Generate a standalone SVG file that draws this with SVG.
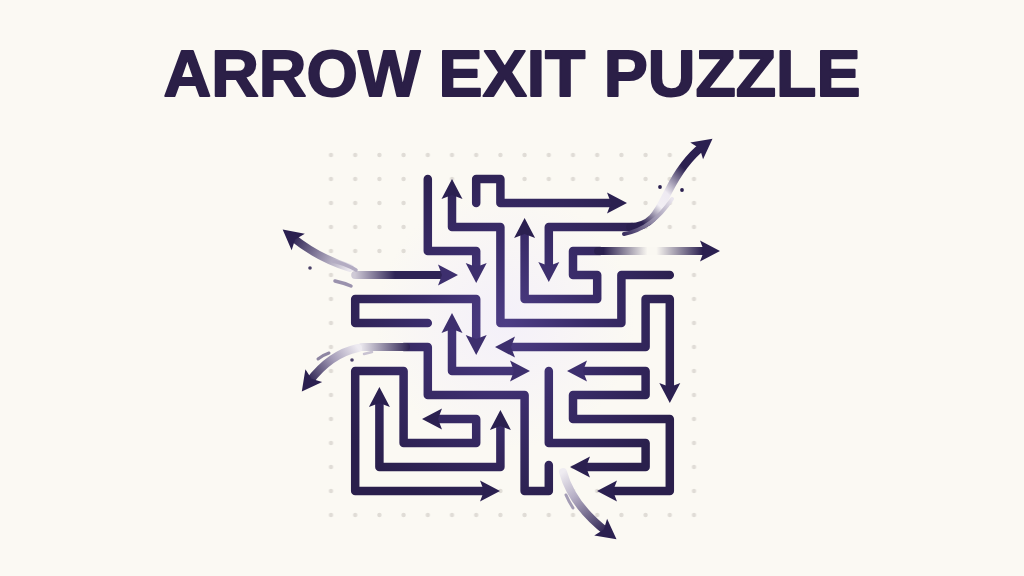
<svg xmlns="http://www.w3.org/2000/svg" width="1024" height="576" viewBox="0 0 1024 576">
<defs>
<style>
.ln{fill:none;stroke:url(#lg);stroke-width:8.5;stroke-linecap:round;stroke-linejoin:round}
.ex{fill:none;stroke-width:8;stroke-linecap:round;stroke-linejoin:round}
.st{fill:none;stroke-linecap:round}
.title{font-family:"Liberation Sans",Arial,sans-serif;font-weight:700;font-size:65px;fill:#2b1f47;stroke:#2b1f47;stroke-width:1.8;stroke-linejoin:round}
</style>
<radialGradient id="lg" gradientUnits="userSpaceOnUse" cx="505" cy="325" r="190">
<stop offset="0" stop-color="#4d3d85"/><stop offset="0.45" stop-color="#3a2c6a"/><stop offset="1" stop-color="#2a1f4c"/>
</radialGradient>
<radialGradient id="glow" gradientUnits="userSpaceOnUse" cx="505" cy="320" r="130">
<stop offset="0" stop-color="#f3effa" stop-opacity="0.9"/><stop offset="1" stop-color="#f3effa" stop-opacity="0"/>
</radialGradient>
<linearGradient id="gTLh" gradientUnits="userSpaceOnUse" x1="355" y1="275" x2="395" y2="275">
<stop offset="0" stop-color="#cfcad6"/><stop offset="1" stop-color="#2f2456"/>
</linearGradient>
<linearGradient id="gTL" gradientUnits="userSpaceOnUse" x1="350" y1="268" x2="292" y2="237">
<stop offset="0" stop-color="#ebe8ee"/><stop offset="0.5" stop-color="#8e86a4"/><stop offset="1" stop-color="#2b2050"/>
</linearGradient>
<linearGradient id="gBLh" gradientUnits="userSpaceOnUse" x1="362" y1="347" x2="410" y2="347">
<stop offset="0" stop-color="#e6e3ea"/><stop offset="1" stop-color="#2d2252"/>
</linearGradient>
<linearGradient id="gBL" gradientUnits="userSpaceOnUse" x1="358" y1="348" x2="309" y2="382">
<stop offset="0" stop-color="#eeebf1"/><stop offset="0.45" stop-color="#a59db8"/><stop offset="1" stop-color="#2b2050"/>
</linearGradient>
<linearGradient id="gTR" gradientUnits="userSpaceOnUse" x1="630" y1="227" x2="705" y2="145">
<stop offset="0" stop-color="#2b2050"/><stop offset="0.1" stop-color="#2b2050"/><stop offset="0.32" stop-color="#f2eff4"/><stop offset="0.45" stop-color="#eeeaf2"/><stop offset="0.72" stop-color="#2b2050"/><stop offset="1" stop-color="#2b2050"/>
</linearGradient>
<linearGradient id="gTRs" gradientUnits="userSpaceOnUse" x1="624" y1="233" x2="672" y2="199">
<stop offset="0" stop-color="#3a2e60"/><stop offset="1" stop-color="#eae6ee"/>
</linearGradient>
<linearGradient id="gR" gradientUnits="userSpaceOnUse" x1="598" y1="251" x2="708" y2="251">
<stop offset="0" stop-color="#2b2050"/><stop offset="0.05" stop-color="#2b2050"/><stop offset="0.45" stop-color="#faf8f2"/><stop offset="0.53" stop-color="#faf8f2"/><stop offset="0.95" stop-color="#2b2050"/>
</linearGradient>
<linearGradient id="gB" gradientUnits="userSpaceOnUse" x1="563" y1="472" x2="607" y2="532">
<stop offset="0" stop-color="#efecf1"/><stop offset="0.35" stop-color="#b7b0c6"/><stop offset="1" stop-color="#2b2050"/>
</linearGradient>
<pattern id="dots" patternUnits="userSpaceOnUse" x="318.9" y="143" width="24.2" height="24">
<circle cx="12.1" cy="12" r="2.2" fill="#e0dcd6"/>
</pattern>
<marker id="ah" viewBox="-10 -12 24 24" markerWidth="24" markerHeight="24" refX="0" refY="0" orient="auto-start-reverse" markerUnits="userSpaceOnUse" overflow="visible">
<path d="M12 0 L-8 -10.5 L-4 0 L-8 10.5 Z" fill="#2b2050"/>
</marker>
<marker id="ahc" viewBox="-10 -12 24 24" markerWidth="24" markerHeight="24" refX="0" refY="0" orient="auto-start-reverse" markerUnits="userSpaceOnUse" overflow="visible">
<path d="M12 0 L-8 -10.5 L-4 0 L-8 10.5 Z" fill="#3d2f6e"/>
</marker>
</defs>
<rect width="1024" height="576" fill="#fbf9f3"/>
<circle cx="505" cy="320" r="130" fill="url(#glow)"/>
<rect x="318.9" y="143" width="387.2" height="384" fill="url(#dots)"/>
<text class="title" x="512" y="95.5" text-anchor="middle" textLength="697" lengthAdjust="spacingAndGlyphs">ARROW EXIT PUZZLE</text>
<g id="connectors">
<g id="arrow-a"><path class="ln" d="M427.8 179 V251 H476.2 V271" marker-end="url(#ahc)"/></g>
<g id="arrow-b"><path class="ln" d="M452 191 V227 H500.4 V323 H621.4 V275 H669.8" marker-start="url(#ah)"/></g>
<g id="arrow-c"><path class="ln" d="M476.2 203 V179 H500.4 V203 H615" marker-end="url(#ah)"/></g>
<g id="arrow-d"><path class="ln" d="M524.6 230 V299 H597.2 V275 H573 V251 H600" marker-start="url(#ah)"/>
<path class="ex" d="M598 251 H708" stroke="url(#gR)" stroke-width="8.5" marker-end="url(#ah)"/></g>
<g id="arrow-e"><path class="ln" d="M548.8 270 V227 H632" marker-start="url(#ahc)"/>
<path class="ex" d="M630 227 C652 227 658 212 668 192 C677 174 690 156 703 146" stroke="url(#gTR)" marker-end="url(#ah)"/>
<path class="st" d="M624 234 Q652 229 672 199" stroke="url(#gTRs)" stroke-width="4"/>
<circle cx="660" cy="187" r="1.9" fill="#2b2050"/><circle cx="682" cy="190" r="1.9" fill="#2b2050"/></g>
<g id="arrow-exit-tl"><path class="ex" d="M355.2 275 H446" stroke="url(#gTLh)" stroke-width="8.5" marker-end="url(#ahc)"/>
<path class="ex" d="M350 268 Q318 258 292 237" stroke="url(#gTL)" marker-end="url(#ah)"/>
<path class="st" d="M333 261 Q346 264 356 270" stroke="#b3acc2" stroke-width="3.5"/>
<path class="st" d="M335 281 Q344 283 351 286" stroke="#9a92ad" stroke-width="3.5"/>
<circle cx="310" cy="268" r="1.8" fill="#4a4068"/></g>
<g id="arrow-f"><path class="ln" d="M507 347 H645.6 V299 H669.8 V391" marker-start="url(#ahc)" marker-end="url(#ah)"/></g>
<g id="arrow-g"><path class="ln" d="M427.8 323 H355.2 V299 H476.2 V343" marker-end="url(#ahc)"/></g>
<g id="arrow-h"><path class="ln" d="M452 325 V371 H518" marker-start="url(#ahc)" marker-end="url(#ahc)"/></g>
<g id="arrow-i"><path class="ln" d="M579 371 H645.6 V395 H573 V419 H669.8 V491 H609" marker-start="url(#ahc)" marker-end="url(#ah)"/></g>
<g id="arrow-j"><path class="ln" d="M548.8 371 V443 H645.6 V467 H582" marker-end="url(#ah)"/>
<path class="ex" d="M563 472 Q572 505 607 532" stroke="url(#gB)" marker-end="url(#ah)"/>
<path class="st" d="M566 495 Q569 502 573 508" stroke="#a49db5" stroke-width="3"/></g>
<g id="arrow-k"><path class="ln" d="M548.8 465 V491 H524.6 V395 H427.8 V347 H404"/>
<path class="ex" d="M406 347 H362" stroke="url(#gBLh)" stroke-width="8.5"/>
<path class="ex" d="M358 348 Q330 354 309 382" stroke="url(#gBL)" marker-end="url(#ah)"/>
<path class="st" d="M318 359 Q323 355 329 353" stroke="#8e86a2" stroke-width="3"/>
<path class="st" d="M364 354 L372 352" stroke="#c9c3d2" stroke-width="2.5"/>
<circle cx="352" cy="360" r="1.8" fill="#4a4068"/></g>
<g id="arrow-l"><path class="ln" d="M488 491 H355.2 V371 H403.6 V443 H476.2 V419 H434" marker-start="url(#ah)" marker-end="url(#ah)"/></g>
<g id="arrow-m"><path class="ln" d="M379.4 399 V467 H500.4 V422" marker-start="url(#ah)" marker-end="url(#ah)"/></g>
</g>
</svg>
